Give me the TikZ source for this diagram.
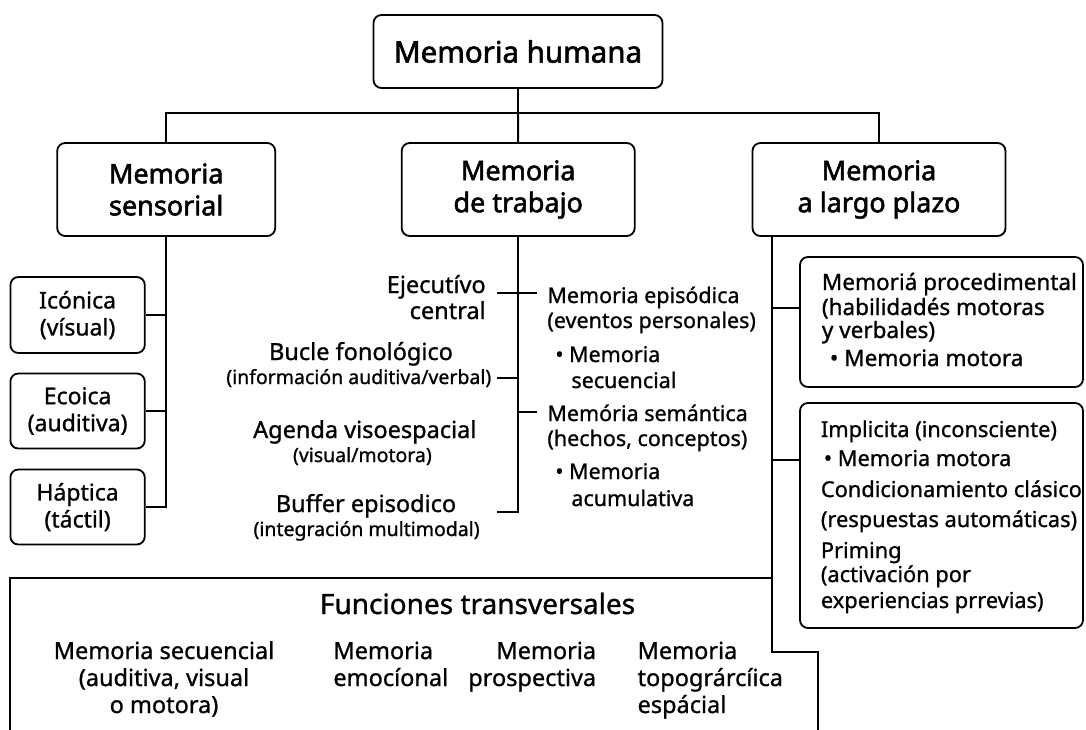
\documentclass[tikz,border=0pt]{standalone}
\usepackage{fontspec}
\setmainfont{Noto Sans}[FakeBold=1.0]
\newfontfamily\ttlfont{Noto Sans}[FakeBold=2.0]
\newcommand{\myfs}[2]{\fontsize{#1}{#2}\selectfont}
\newcommand{\myL}[1]{\begin{tabular}[t]{@{}l@{}}#1\end{tabular}}
\newcommand{\myC}[1]{\begin{tabular}[t]{@{}c@{}}#1\end{tabular}}
\newcommand{\myR}[1]{\begin{tabular}[t]{@{}r@{}}#1\end{tabular}}
\begin{document}
\begin{tikzpicture}[x=1pt,y=-1pt,line width=1.8pt,
  box/.style={draw, rounded corners=8pt, inner sep=0pt, align=center},
  ttl/.style={box, font=\ttlfont\myfs{27}{32}, minimum height=93pt},
  sub/.style={box, font=\myfs{23}{27}, minimum width=134.4pt, minimum height=75pt},
  lbl/.style={inner sep=0pt},
  hd/.style={lbl, font=\myfs{23.5}{26}},
  sm/.style={lbl, font=\myfs{19.5}{24}},
  side/.style={lbl, anchor=base west, font=\myfs{21.5}{25}},
  inbox/.style={lbl, anchor=base west, font=\myfs{22.5}{25}},
  item/.style={lbl, font=\myfs{23.5}{27}},
]
\useasboundingbox (0,0) rectangle (1086,730);
\fill[white] (0,0) rectangle (1086,730);

% top level
\node[box, font=\ttlfont\myfs{29.5}{34}, minimum width=289pt, minimum height=73pt] (top) at (518,51.5) {Memoria humana};
\node[ttl, minimum width=218pt] (sens) at (166.2,189.5) {Memoria\\sensorial};
\node[ttl, minimum width=233pt] (trab) at (518.2,189.5) {Memoria\\de trabajo};
\node[ttl, minimum width=253pt] (largo) at (879,189.5) {Memoria\\a largo plazo};
\coordinate (busL) at (166.2,113);
\coordinate (busR) at (879,113);
\draw (top) -- (trab);
\draw (sens.north) -- (busL) -- (busR) -- (largo.north);

% sensorial
\node[sub, minimum height=76pt] (ic) at (77.6,315) {Icónica\\(vísual)};
\node[sub] (ec) at (77.6,411) {Ecoica\\(auditiva)};
\node[sub] (ha) at (77.6,507) {Háptica\\(táctil)};
\draw (sens.south) |- (ha.east);
\draw (ic.east) -- (ic.east -| sens.south);
\draw (ec.east) -- (ec.east -| sens.south);

% trabajo, left side
\node[hd, anchor=base east] (ejec) at (486.6,293) {\myR{Ejecutívo\\central}};
\node[hd, anchor=base] (bucle) at (361,360) {Bucle fonológico};
\node[sm, anchor=base] (bucles) at (358.8,384) {(información auditiva/verbal)};
\node[hd, anchor=base] (agenda) at (364.8,438) {Agenda visoespacial};
\node[sm, anchor=base] (agendas) at (362.4,462) {(visual/motora)};
\node[hd, anchor=base] (buffer) at (366,512) {Buffer episodico};
\node[sm, anchor=base] (buffers) at (366.6,536) {(integración multimodal)};

% trabajo, right side
\node[side] (epis) at (546.5,303) {\myL{Memoria episódica\\(eventos personales)\\[9pt]\hspace*{8pt}• Memoria\\[1pt]\hspace*{24pt}secuencial}};
\node[side] (sem) at (546.5,421) {\myL{Memória semántica\\(hechos, conceptos)\\[8pt]\hspace*{8pt}• Memoria\\[2pt]\hspace*{24pt}acumulativa}};

\coordinate (mEnd) at (518.2,512);
\coordinate (j1) at (497,293);
\coordinate (j2) at (537,293);
\coordinate (b1) at (497,378);
\coordinate (b2) at (518.2,378);
\coordinate (s1) at (518.2,412);
\coordinate (s2) at (537,412);
\coordinate (f1) at (497,512);
\draw (trab.south) -- (mEnd) -- (f1);
\draw (j1) -- (j2);
\draw (b1) -- (b2);
\draw (s1) -- (s2);

% largo plazo
\node[draw, rounded corners=8pt, inner sep=0pt, minimum width=283pt, minimum height=130pt] (proc) at (941.5,322) {};
\node[inbox] (proct) at (821,290) {\myL{Memoriá procedimental\\(habilidadés motoras\\[-2pt]y verbales)\\[3pt]\hspace*{8pt}• Memoria motora}};
\node[draw, rounded corners=8pt, inner sep=0pt, minimum width=283pt, minimum height=225pt] (impl) at (941.5,515.5) {};
\node[inbox, font=\myfs{21.8}{26}] (implt) at (820,437) {\myL{Implicita (inconsciente)\\[3pt]\hspace*{3pt}• Memoria motora\\[5pt]Condicionamiento clásico\\[4pt](respuestas automáticas)\\[5pt]Priming\\[-2pt](activación por\\experiencias prrevias)}};

\coordinate (rs) at (771.6,0);
\coordinate (n1) at (771.6,652);
\coordinate (n2) at (818,652);
\coordinate (n3) at (818,731);
\draw (rs |- largo.south) -- (n1) -- (n2) -- (n3);
\draw (rs |- 0,308) -- (proc.west |- 0,308);
\draw (rs |- 0,460) -- (impl.west |- 0,460);

% funciones transversales
\coordinate (fb) at (10,731);
\coordinate (ft) at (10,578);
\draw (fb) -- (ft) -- (rs |- ft);
\node[lbl, anchor=base, font=\myfs{28}{30}] (fun) at (477.5,614) {Funciones transversales};
\node[item, anchor=base] (fa) at (164,659) {\myC{Memoria secuencial\\(auditiva, visual\\o motora)}};
\node[item, anchor=base west] (fbx) at (332.5,659) {\myL{Memoria\\emocíonal}};
\node[item, anchor=base east] (fc) at (597,659) {\myR{Memoria\\prospectiva}};
\node[item, anchor=base west] (fd) at (636.7,659) {\myL{Memoria\\topográrcíica\\espácial}};
\end{tikzpicture}
\end{document}
